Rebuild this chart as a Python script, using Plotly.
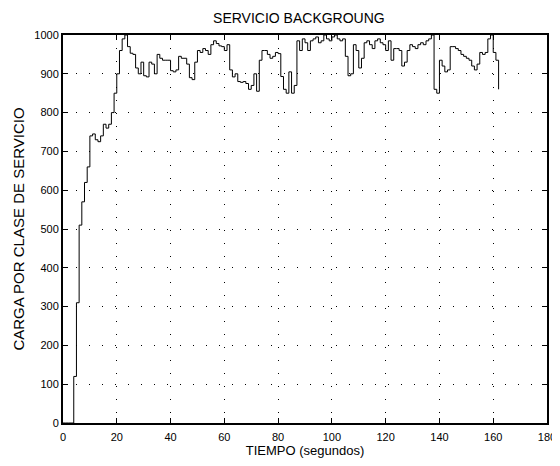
import plotly.graph_objects as go

# Time (seconds) and background-service load
time_s = list(range(0, 163))
load = [
    0, 0, 0, 0, 120, 310, 510, 570, 620, 660,          # 0-9
    740, 745, 730, 725, 740, 770, 760, 770, 800, 850,  # 10-19
    900, 960, 990, 1000, 970, 953, 950, 915, 900, 930, # 20-29
    895, 892, 930, 925, 900, 950, 940, 935, 935, 935,  # 30-39
    908, 905, 910, 945, 940, 940, 925, 890, 885, 930,  # 40-49
    960, 955, 965, 960, 950, 975, 985, 978, 972, 970,  # 50-59
    960, 975, 910, 892, 900, 880, 878, 880, 875, 860,  # 60-69
    870, 900, 855, 935, 960, 960, 950, 940, 945, 955,  # 70-79
    952, 893, 860, 850, 905, 850, 870, 985, 960, 990,  # 80-89
    980, 960, 985, 990, 995, 980, 985, 1000, 990, 985, # 90-99
    995, 1000, 990, 985, 990, 945, 895, 900, 975, 960, # 100-109
    915, 940, 980, 985, 975, 965, 985, 990, 980, 975,  # 110-119
    960, 985, 935, 965, 965, 960, 920, 930, 960, 975,  # 120-129
    970, 965, 975, 980, 975, 985, 990, 1000, 860, 850, # 130-139
    935, 920, 905, 910, 970, 970, 965, 960, 950, 945,  # 140-149
    940, 935, 920, 910, 925, 955, 950, 955, 990, 1000, # 150-159
    955, 935, 860,                                     # 160-162
]

x_ticks = list(range(0, 181, 20))
y_ticks = list(range(0, 1001, 100))

title_text = "SERVICIO BACKGROUNG"
x_title = "TIEMPO (segundos)"
y_title = "CARGA POR CLASE DE SERVICIO"

fig = go.Figure()
fig.add_trace(go.Scatter(
    x=time_s, y=load, mode="lines", line_shape="hv",
    line=dict(color="black", width=1), showlegend=False,
))

font_family = "Liberation Sans, Arial, sans-serif"
axis_common = dict(
    showline=True, linecolor="black", linewidth=2, mirror="ticks",
    ticks="inside", ticklen=5, tickcolor="black", tickwidth=1,
    showgrid=True, gridcolor="black", gridwidth=1, griddash="1px,12px",
    zeroline=False, tickfont=dict(size=11, color="black", family=font_family),
)

# page body has an 8px margin, so the figure is 8px smaller than the window
fig.update_layout(
    width=552, height=458,
    margin=dict(l=55, r=13, t=27, b=43, autoexpand=False),
    paper_bgcolor="white", plot_bgcolor="white",
    font=dict(family=font_family, color="black"),
    title=dict(text=title_text, xref="container", x=0.527, xanchor="center",
               yref="container", y=0.978, yanchor="middle",
               font=dict(size=14, color="black", family=font_family)),
    xaxis=dict(range=[0, 180], tickvals=x_ticks, ticklabelstandoff=3,
               title=dict(text=x_title, standoff=2, font=dict(size=13, color="black")),
               **axis_common),
    yaxis=dict(range=[0, 1000], tickvals=y_ticks,
               title=dict(text=y_title, standoff=6, font=dict(size=15, color="black")),
               **axis_common),
)

fig.write_html("out.html")
